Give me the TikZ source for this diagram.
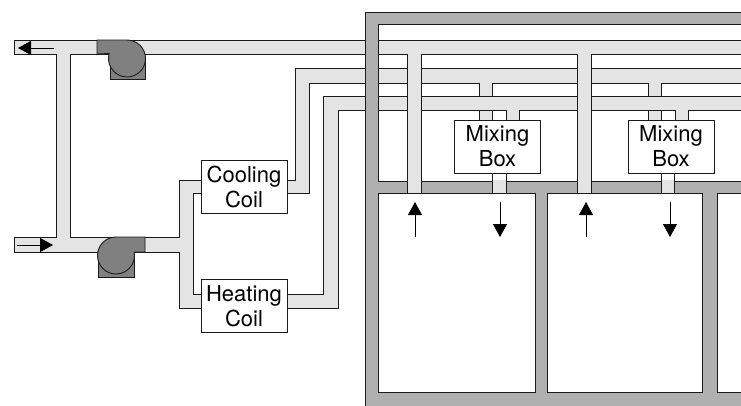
\documentclass[tikz,border=0pt]{standalone}
\usepackage{fontspec}
\setmainfont{TeX Gyre Heros}
\usetikzlibrary{arrows.meta,positioning}
\definecolor{ductgray}{HTML}{E4E4E4}
\definecolor{wallgray}{HTML}{B0B0B0}
\definecolor{fangray}{HTML}{808080}
\definecolor{ink}{HTML}{1A1A1A}
\tikzset{
  duct/.style={draw=ink,fill=ductgray,line width=0.9pt},
  wall/.style={draw=ink,fill=wallgray,line width=0.9pt,even odd rule},
  fan/.style={draw=ink,fill=fangray,line width=0.9pt},
  unitbox/.style={draw=ink,fill=white,line width=0.9pt,minimum width=86pt,minimum height=53pt,
                  align=center,inner sep=0pt,font=\fontsize{22}{25}\selectfont},
  flowarr/.style={-{Triangle[length=13pt,width=14pt]},line width=0.9pt,color=black}
}
\begin{document}
\begin{tikzpicture}[x=1pt,y=-1pt]
  \clip (0,0) rectangle (741,405);

  % cold deck
  \draw[duct] (287,180) -- (295,180) -- (295,68) -- (745,68) -- (745,83) -- (661,83) -- (661,120)
    -- (648,120) -- (648,83) -- (492,83) -- (492,120) -- (479,120) -- (479,83) -- (309,83)
    -- (309,193) -- (287,193) -- cycle;
  % hot deck
  \draw[duct] (287,294) -- (323,294) -- (323,96) -- (745,96) -- (745,110) -- (688,110) -- (688,120)
    -- (675,120) -- (675,110) -- (519,110) -- (519,120) -- (506,120) -- (506,110) -- (338,110)
    -- (338,308) -- (287,308) -- cycle;
  % return and supply run
  \draw[duct] (14,40) -- (745,40) -- (745,54) -- (591,54) -- (591,193) -- (577,193) -- (577,54)
    -- (421,54) -- (421,193) -- (407,193) -- (407,54) -- (70,54) -- (70,237) -- (179,237)
    -- (179,180) -- (201,180) -- (201,193) -- (193,193) -- (193,294) -- (201,294) -- (201,308)
    -- (179,308) -- (179,252) -- (14,252) -- (14,237) -- (56,237) -- (56,54) -- (14,54) -- cycle;

  % building walls and rooms
  \draw[wall] (365,12) rectangle (745,410)
    (378,24) rectangle (745,181)
    (378,193) rectangle (535,392)
    (547.5,193) rectangle (702,392)
    (717,193) rectangle (745,392);

  % stubs through the ceiling
  \foreach \xa/\xb in {407/421,492/506,577/591,661/674} {
    \fill[ductgray] (\xa,180) rectangle (\xb,193);
    \draw[ink,line width=0.9pt] (\xa,173) -- (\xa,193) (\xb,173) -- (\xb,193);
  }

  % fans
  \draw[fan] (110,59) rectangle (145,79);
  \draw[fan] (97,40) -- (127,40) arc[start angle=-90,end angle=195.7,radius=18.5] -- (97,54) -- cycle;
  \draw[fan] (98.5,256) rectangle (134,277);
  \draw[fan] (145,237) -- (116,237) arc[start angle=-90,end angle=-370.9,radius=18.5] -- (145,252) -- cycle;

  % coils and mixing boxes
  \node[unitbox] (cooling) at (244,187) {Cooling\\Coil};
  \node[unitbox] (heating) at (244,306) {Heating\\Coil};
  \node[unitbox] (mixa) at (497.5,146.5) {Mixing\\Box};
  \node[unitbox] (mixb) at (671,146.5) {Mixing\\Box};

  % flow arrows
  \draw[flowarr] (54,48) -- (18,48);
  \draw[flowarr] (17,245) -- (53,245);
  \foreach \x in {415,586} {
    \draw[flowarr] (\x,237) -- (\x,202);
  }
  \foreach \x in {500,670} {
    \draw[flowarr] (\x,202) -- (\x,237);
  }
\end{tikzpicture}
\end{document}
